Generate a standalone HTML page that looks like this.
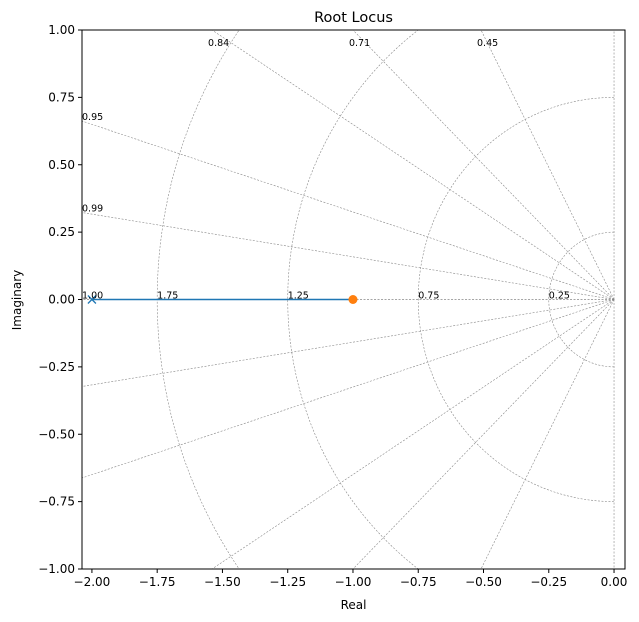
<!DOCTYPE html>
<html><head><meta charset="utf-8"><style>
html,body{margin:0;background:#fff;overflow:hidden}
svg{display:block}
svg text{font-family:"DejaVu Sans","Liberation Sans",sans-serif}
</style></head><body>
<svg id="c" width="639" height="622" xmlns="http://www.w3.org/2000/svg"></svg>
<script>
const xTicks=[-2.00,-1.75,-1.50,-1.25,-1.00,-0.75,-0.50,-0.25,0.00];
const yTicks=[-1.00,-0.75,-0.50,-0.25,0.00,0.25,0.50,0.75,1.00];
const rayAngles=[0,9,18,33,45,63,90];
const rayLabels=["1.00","0.99","0.95","0.84","0.71","0.45",""];
const wnRadii=[0.25,0.75,1.25,1.75];
const wnLabels=["0.25","0.75","1.25","1.75"];
const poles=[[-2,0]];
const zeros=[[-1,0]];
const locusX=[-2,-1];
const locusY=[0,0];
const X0=-2.038,X1=0.042,Y0=-1,Y1=1;
const L=82,R=625,T=30,B=569;
const sx=v=>L+(v-X0)/(X1-X0)*(R-L);
const sy=v=>B-(v-Y0)/(Y1-Y0)*(B-T);
const fmt=v=>(v<0?'\u2212':'')+Math.abs(v).toFixed(2);
const svg=document.getElementById('c');
const NS="http://www.w3.org/2000/svg";
function mk(t,a,p){const e=document.createElementNS(NS,t);for(const k in a)e.setAttribute(k,a[k]);(p||svg).appendChild(e);return e;}
const defs=mk('defs',{});const cp=mk('clipPath',{id:'clip'},defs);mk('rect',{x:L,y:T,width:R-L,height:B-T},cp);
const g=mk('g',{'clip-path':'url(#clip)'});


const gs={stroke:'#888',"stroke-width":0.6,"stroke-dasharray":"2,1.5",fill:'none'};
rayAngles.forEach((a,i)=>{
  const r=a*Math.PI/180,len=5;
  [1,-1].forEach(s=>{
    const e=mk('line',Object.assign({x1:sx(0),y1:sy(0),x2:sx(-len*Math.cos(r)),y2:sy(s*len*Math.sin(r))},gs),g);
    
    
  });
});
wnRadii.forEach(rad=>{
  let d='';
  for(let k=0;k<=180;k++){const t=(90+k)*Math.PI/180;d+=(k?'L':'M')+sx(rad*Math.cos(t))+','+sy(rad*Math.sin(t));}
  const e=mk('path',Object.assign({d},gs),g);
  
  
});
const lp=mk('polyline',{points:locusX.map((x,i)=>sx(x)+','+sy(locusY[i])).join(' '),stroke:'#1f77b4','stroke-width':1.5,fill:'none'},g);


poles.forEach(p=>{const x=sx(p[0]),y=sy(p[1]);
  const e=mk('path',{d:`M${x-4},${y-4}L${x+4},${y+4}M${x-4},${y+4}L${x+4},${y-4}`,stroke:'#1f77b4','stroke-width':1.3},g);
  
  });
zeros.forEach(p=>{const e=mk('circle',{cx:sx(p[0]),cy:sy(p[1]),r:4.5,fill:'#ff7f0e'},g);
  
  });
const lab={'font-size':9.5,fill:'#000'};
rayAngles.forEach((a,i)=>{ if(!rayLabels[i])return;
  const r=a*Math.PI/180;let x,y;
  const xe=-(Y1)/Math.tan(r||1e-9);
  const top=a>0&&xe>X0;
  if(top){x=sx(xe)-4;y=T+16;}else{x=L;y=sy((X0)*-Math.tan(r))-1;}
  const t=mk('text',Object.assign({x,y},lab));t.textContent=rayLabels[i];
  
  });
wnRadii.forEach((rad,i)=>{const t=mk('text',Object.assign({x:sx(-rad),y:sy(0)-1},lab));t.textContent=wnLabels[i];
  
  });
const f=mk('rect',{x:L,y:T,width:R-L,height:B-T,fill:'none',stroke:'#000','stroke-width':1});


xTicks.forEach(v=>{const x=sx(v);mk('line',{x1:x,y1:B,x2:x,y2:B+4,stroke:'#000'});
  const t=mk('text',{x,y:B+17,'font-size':12,'text-anchor':'middle'});t.textContent=fmt(v);
  
  });
yTicks.forEach(v=>{const y=sy(v);mk('line',{x1:L-4,y1:y,x2:L,y2:y,stroke:'#000'});
  const t=mk('text',{x:L-7,y:y+4,'font-size':12,'text-anchor':'end'});t.textContent=fmt(v);
  
  });
let t=mk('text',{x:(L+R)/2,y:22,'font-size':14.5,'text-anchor':'middle'});t.textContent='Root Locus';

t=mk('text',{x:(L+R)/2,y:609,'font-size':12,'text-anchor':'middle'});t.textContent='Real';

t=mk('text',{x:21,y:300,'font-size':12,'text-anchor':'middle',transform:'rotate(-90 21 300)'});t.textContent='Imaginary';

</script>
</body></html>
